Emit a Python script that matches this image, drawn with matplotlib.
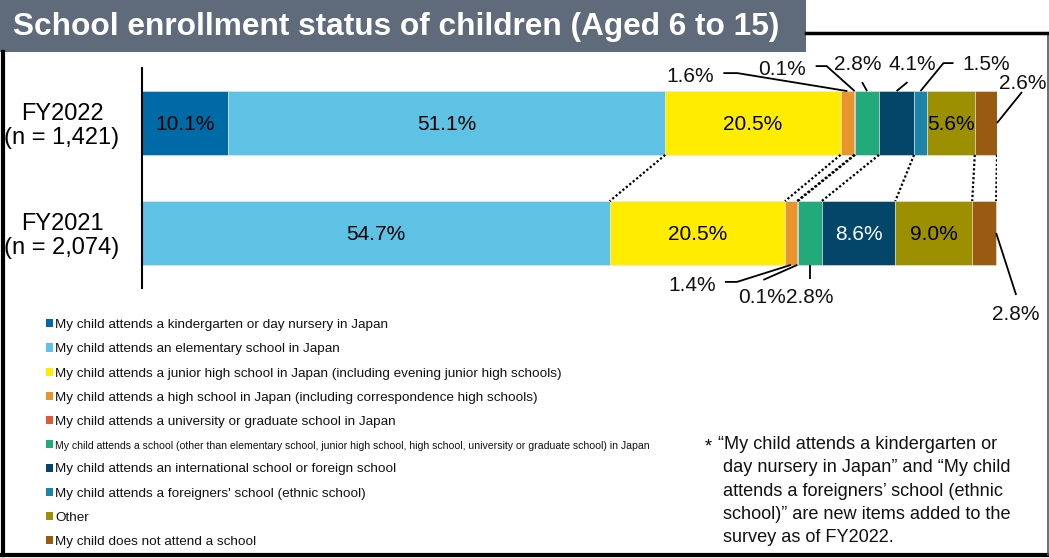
import matplotlib.pyplot as plt
from matplotlib.lines import Line2D
from matplotlib.patches import Rectangle, Patch

plt.rcParams['font.family'] = ['Liberation Sans', 'DejaVu Sans']

W, H = 1049, 558

# ---- data ----
categories = [
    'My child attends a kindergarten or day nursery in Japan',
    'My child attends an elementary school in Japan',
    'My child attends a junior high school in Japan (including evening junior high schools)',
    'My child attends a high school in Japan (including correspondence high schools)',
    'My child attends a university or graduate school in Japan',
    'My child attends a school (other than elementary school, junior high school, high school, '
    'university or graduate school) in Japan',
    'My child attends an international school or foreign school',
    "My child attends a foreigners' school (ethnic school)",
    'Other',
    'My child does not attend a school',
]
colors = ['#006aa6', '#5dc2e3', '#ffec00', '#e9952d', '#e05a37',
          '#23aa7b', '#03466a', '#1c84a8', '#9c9000', '#995a12']
year_labels = ['FY2021\n(n = 2,074)', 'FY2022\n(n = 1,421)']
fy2022 = [10.1, 51.1, 20.5, 1.6, 0.1, 2.8, 4.1, 1.5, 5.6, 2.6]
fy2021 = [0.0, 54.7, 20.5, 1.4, 0.1, 2.8, 8.6, 0.0, 9.0, 2.8]

# which segments carry their value inside the bar
inside_2022 = [0, 1, 2, 8]
inside_2021 = [1, 2, 6, 8]

# callouts: (segment, anchor, text offset px, leader offsets px); image-style offsets (y down)
callouts_2022 = [
    (3, 'top', (-157, -16), [(-124, -18), (-110, -18), (0, 0)]),
    (4, 'top', (-73, -23), [(-39, -25), (-28, -25), (0, 0)]),
    (5, 'top', (-9, -28), [(-5, -9), (0, 0)]),
    (6, 'top', (16, -28), [(11, -9), (0, 0)]),
    (7, 'top', (66, -28), [(33, -28), (23, -28), (0, 0)]),
    (9, 'end', (26, -41), [(25, -31), (0, 0)]),
]
callouts_2021 = [
    (3, 'bottom', (-99, 19), [(-66, 17), (-54, 17), (0, 0)]),
    (4, 'bottom', (-35, 31), [(-34, 15), (0, 0)]),
    (5, 'bottom', (0, 31), [(0, 14), (0, 0)]),
    (9, 'end', (20, 80), [(20, 62), (0, 0)]),
]

footnote = ('\u201cMy child attends a kindergarten or\n'
            ' day nursery in Japan\u201d and \u201cMy child\n'
            ' attends a foreigners\u2019 school (ethnic\n'
            ' school)\u201d are new items added to the\n'
            ' survey as of FY2022.')


def fx(x):
    return x / W


def fy(y):
    return 1 - y / H


fig = plt.figure(figsize=(W / 100, H / 100), dpi=100)
fig.patch.set_facecolor('white')

# axes spans x 142..997 px, y 68..288 px
ax_l, ax_r, ax_t, ax_b = 142, 997, 68, 288
ax = fig.add_axes([fx(ax_l), fy(ax_b), (ax_r - ax_l) / W, (ax_b - ax_t) / H])
ax.set_xlim(0, 100)
ax.set_ylim(-0.5, 1.5)
PX_X = 100 / (ax_r - ax_l)
PX_Y = 2.0 / (ax_b - ax_t)
BAR_H = 0.58
rows = {0: fy2021, 1: fy2022}

lefts = {}
for y, vals in rows.items():
    left = 0.0
    lefts[y] = []
    for v, c in zip(vals, colors):
        lefts[y].append(left)
        if v > 0:
            ax.barh(y, v, left=left, height=BAR_H, color=c,
                    edgecolor='#e8e8e8', linewidth=0.4)
        left += v

FS = 15
CAP = 7  # half cap height in px, for visually centred numbers


def put_inside(y, idx):
    v = rows[y][idx]
    xc = lefts[y][idx] + v / 2
    col = 'white' if idx == 6 else 'black'
    ax.text(xc, y - CAP * PX_Y, f'{v:.1f}%', ha='center', va='baseline',
            fontsize=FS, color=col)


for i in inside_2022:
    put_inside(1, i)
for i in inside_2021:
    put_inside(0, i)


def put_callout(y, idx, kind, toff, path):
    v = rows[y][idx]
    if kind == 'end':
        ax0, ay0 = lefts[y][idx] + v, y
    elif kind == 'top':
        ax0, ay0 = lefts[y][idx] + v / 2, y + BAR_H / 2
    else:
        ax0, ay0 = lefts[y][idx] + v / 2, y - BAR_H / 2
    xs = [ax0 + dx * PX_X for dx, dy in path]
    ys = [ay0 - dy * PX_Y for dx, dy in path]
    ax.plot(xs, ys, color='black', lw=1.3, clip_on=False,
            solid_capstyle='butt')
    tx = ax0 + toff[0] * PX_X
    ty = ay0 - (toff[1] + CAP) * PX_Y
    ax.text(tx, ty, f'{v:.1f}%', ha='center', va='baseline', fontsize=FS,
            color='#111111', clip_on=False)


for c in callouts_2022:
    put_callout(1, *c)
for c in callouts_2021:
    put_callout(0, *c)

# dotted connectors between segment boundaries of items present in both years
top_y = 0 + BAR_H / 2
bot_y = 1 - BAR_H / 2
for i in range(len(categories)):
    if fy2021[i] > 0 and fy2022[i] > 0:
        x22 = lefts[1][i] + fy2022[i]
        x21 = lefts[0][i] + fy2021[i]
        ax.plot([x22, x21], [bot_y, top_y], color='black', lw=1.6,
                linestyle=(0, (1, 1.0)))

ax.set_yticks([0, 1])
ax.set_yticklabels(year_labels, fontsize=17, ha='center',
                   multialignment='center', linespacing=1.1)
ax.tick_params(axis='y', length=0, pad=80 * 0.72)
ax.set_xticks([])
for s in ['top', 'right', 'bottom']:
    ax.spines[s].set_visible(False)
ax.spines['left'].set_color('black')
ax.spines['left'].set_linewidth(1.5)

# legend
handles = [Patch(facecolor=c, edgecolor='none') for c in colors]
leg = fig.legend(handles, categories, loc='upper left',
                 bbox_to_anchor=(fx(46), fy(319)), frameon=False,
                 fontsize=9.7, handlelength=0.55, handleheight=0.55,
                 handletextpad=0.15, labelspacing=0.91, borderpad=0,
                 borderaxespad=0)
leg.get_texts()[5].set_fontsize(7.6)
for t in leg.get_texts():
    t.set_color('#111111')

# footnote
fig.text(fx(705), fy(447), '*', fontsize=13, va='center', ha='left')
fig.text(fx(718), fy(436), footnote, fontsize=13.1, va='top', ha='left',
         linespacing=1.49, color='#111111')

# title box
fig.add_artist(Rectangle((0, fy(52)), fx(806), 52 / H, transform=fig.transFigure,
                         facecolor='#5f6b7a', edgecolor='none'))
fig.text(fx(13), fy(27), 'School enrollment status of children (Aged 6 to 15)',
         color='white', fontsize=22.8, fontweight='bold', va='center', ha='left')

# frame
frame = [([fx(3), fx(3)], [fy(52), fy(555)], 3.0, 'black'),
         ([fx(2), fx(1049)], [fy(554.5), fy(554.5)], 3.0, 'black'),
         ([fx(1047.5), fx(1047.5)], [fy(33), fy(555)], 1.2, '#555555'),
         ([fx(806), fx(1049)], [fy(33), fy(33)], 2.5, 'black')]
for xs, ys, lw, col in frame:
    fig.add_artist(Line2D(xs, ys, lw=lw, color=col, transform=fig.transFigure))

fig.savefig('out.png', dpi=100)
